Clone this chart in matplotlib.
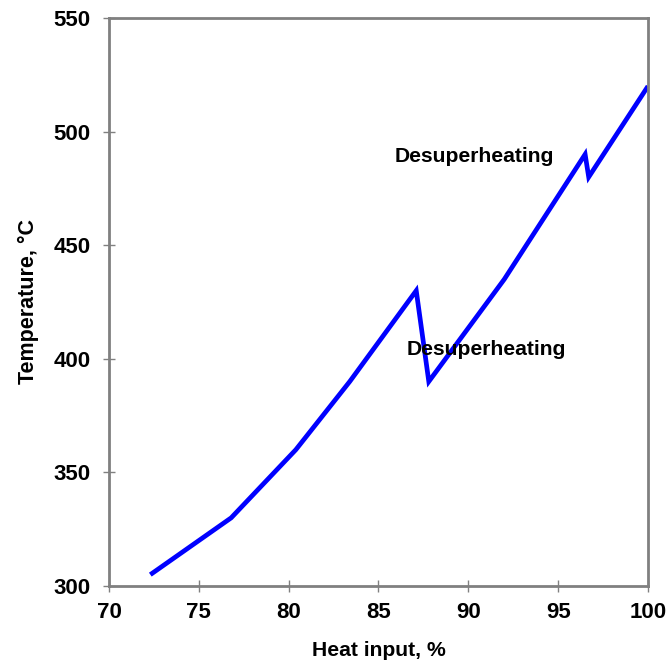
import matplotlib
matplotlib.use("Agg")
import matplotlib.pyplot as plt

# heat input (%) vs steam temperature (C)
heat = [72.3, 76.8, 80.4, 83.4, 87.1, 87.8, 92.0, 96.5, 96.7, 100.0]
temp = [305, 330, 360, 390, 430, 390, 435, 490, 480, 520]

notes = ["Desuperheating", "Desuperheating"]
note_x = [85.9, 86.55]
note_y = [489, 404]

plt.rcParams["font.family"] = ["Liberation Sans", "DejaVu Sans"]
plt.rcParams["font.weight"] = "bold"

fig = plt.figure(figsize=(6.67, 6.61), dpi=100)
ax = fig.add_axes([109/667, 1-586/661, 539/667, 568/661])

ax.plot(heat, temp, color="#0000ff", lw=3.4, solid_joinstyle="miter", solid_capstyle="butt")
for t, x, y in zip(notes, note_x, note_y):
    ax.text(x, y, t, fontsize=15.2, fontweight="bold", ha="left", va="center")

ax.set_xlim(70, 100)
ax.set_ylim(300, 550)
ax.set_xticks(range(70, 101, 5))
ax.set_yticks(range(300, 551, 50))
for s in ax.spines.values():
    s.set_color("#808080"); s.set_linewidth(2)
ax.tick_params(direction="inout", length=9, width=1, color="#808080", labelsize=16)
ax.tick_params(axis="y", pad=9)
ax.tick_params(axis="x", pad=7)
for lb in ax.get_xticklabels() + ax.get_yticklabels():
    lb.set_fontweight("bold")
ax.set_xlabel("Heat input, %", fontsize=15.2, fontweight="bold", labelpad=13)
ax.set_ylabel("Temperature, °C", fontsize=15.5, fontweight="bold", labelpad=10)

fig.savefig("out.png", dpi=100)
